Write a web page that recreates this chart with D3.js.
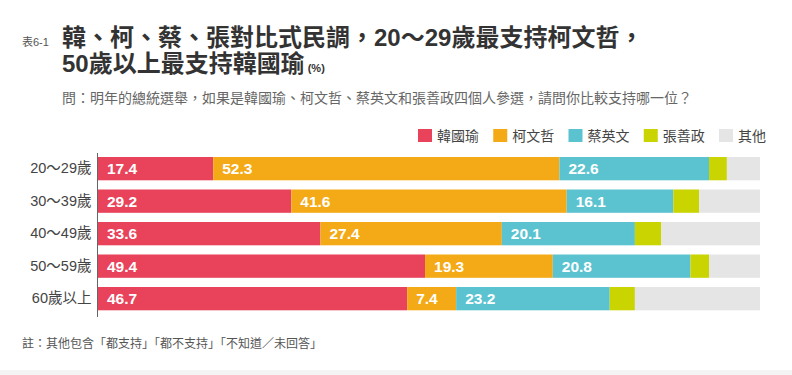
<!DOCTYPE html>
<html>
<head>
<meta charset="utf-8">
<script src="https://cdn.jsdelivr.net/npm/d3@7"></script>
<style>
	body{margin:0;background:#fff;}
	svg{display:block;font-family:"Liberation Sans","Noto Sans CJK TC",sans-serif;}
</style>
</head>
<body>
<div id="chart"></div>
<script>

//data
const ageGroups = ["20～29歲", "30～39歲", "40～49歲", "50～59歲", "60歲以上"];
const candidates = ["韓國瑜", "柯文哲", "蔡英文", "張善政", "其他"];
const hanValues = [17.4, 29.2, 33.6, 49.4, 46.7];
const koValues = [52.3, 41.6, 27.4, 19.3, 7.4];
const tsaiValues = [22.6, 16.1, 20.1, 20.8, 23.2];
const changValues = [2.7, 3.9, 4.0, 2.8, 3.8];
const otherValues = [5.0, 9.2, 14.9, 7.7, 18.9];
const labelled = ["韓國瑜", "柯文哲", "蔡英文"];

function graph(){

	//sizing
	const width = 792;
	const height = 375;

	let svg = d3.select("#chart")
		.append("svg")
		.attr("width", width)
		.attr("height", height);

	//color per candidate
	let fillColor = d3.scaleOrdinal()
		.domain(candidates)
		.range(["#e8435a", "#f4aa17", "#5bc3d0", "#c9d400", "#e5e5e6"]);

	//build rows for the stack
	let rows = ageGroups.map((g, i) => ({
		group: g,
		"韓國瑜": hanValues[i],
		"柯文哲": koValues[i],
		"蔡英文": tsaiValues[i],
		"張善政": changValues[i],
		"其他": otherValues[i]
	}));

	let series = d3.stack().keys(candidates)(rows);

	let x = d3.scaleLinear()
		.domain([0, 100])
		.range([98, 760]);

	let y = d3.scaleBand()
		.domain(ageGroups)
		.range([152.4, 314.9])
		.paddingInner(0.283)
		.paddingOuter(0.1415);

	//bars
	let layers = svg.append("g")
		.selectAll("g")
		.data(series)
		.enter().append("g")
		.attr("fill", (d) => fillColor(d.key));

	layers.selectAll("rect")
		.data((d) => d)
		.enter().append("rect")
		.attr("x", (d) => x(d[0]))
		.attr("y", (d) => y(d.data.group))
		.attr("width", (d) => x(d[1]) - x(d[0]))
		.attr("height", y.bandwidth());

	//value labels
	series.filter((s) => labelled.includes(s.key)).forEach((s) => {
		svg.append("g")
			.selectAll("text")
			.data(s)
			.enter().append("text")
			.attr("x", (d) => x(d[0]) + 9)
			.attr("y", (d) => y(d.data.group) + y.bandwidth()/2)
			.attr("dy", "0.36em")
			.attr("fill", "#fff")
			.attr("font-weight", "bold")
			.attr("font-size", "15.5px")
			.text((d) => (d[1] - d[0]).toFixed(1));
	});

	//category axis
	let axis = svg.append("g")
		.attr("transform", "translate(97.5,0)")
		.call(d3.axisLeft(y).tickSize(0).tickPadding(6));

	axis.select(".domain")
		.attr("d", "M0,153V317")
		.attr("stroke", "#666");

	axis.selectAll("text")
		.attr("font-size", "14.5px")
		.attr("fill", "#444")
		.attr("font-family", "\"Liberation Sans\",\"Noto Sans CJK TC\",sans-serif");

	//legend
	let legendX = d3.scalePoint()
		.domain(candidates)
		.range([418, 719]);

	let legend = svg.append("g")
		.selectAll("g")
		.data(candidates)
		.enter().append("g")
		.attr("transform", (d) => "translate(" + legendX(d) + ",0)");

	legend.append("rect")
		.attr("y", 129)
		.attr("width", 14)
		.attr("height", 13)
		.attr("fill", (d) => fillColor(d));

	legend.append("text")
		.attr("x", 19)
		.attr("y", 141)
		.attr("font-size", "14px")
		.attr("fill", "#444")
		.text((d) => d);

	//titles
	svg.append("text")
		.attr("x", 22)
		.attr("y", 46)
		.attr("font-size", "11px")
		.attr("fill", "#555")
		.text("表6-1");

	svg.append("text")
		.attr("x", 62)
		.attr("y", 46)
		.attr("font-size", "24px")
		.attr("font-weight", "bold")
		.attr("fill", "#333")
		.text("韓、柯、蔡、張對比式民調，20～29歲最支持柯文哲，");

	let t2 = svg.append("text")
		.attr("x", 62)
		.attr("y", 72)
		.attr("font-size", "24px")
		.attr("font-weight", "bold")
		.attr("fill", "#333");
	t2.append("tspan").text("50歲以上最支持韓國瑜");
	t2.append("tspan")
		.attr("font-size", "11px")
		.attr("dx", 3)
		.text("(%)");

	svg.append("text")
		.attr("x", 62)
		.attr("y", 103)
		.attr("font-size", "14px")
		.attr("fill", "#666")
		.text("問：明年的總統選舉，如果是韓國瑜、柯文哲、蔡英文和張善政四個人參選，請問你比較支持哪一位？");

	//note
	svg.append("text")
		.attr("x", 22)
		.attr("y", 348)
		.attr("font-size", "12px")
		.attr("fill", "#555")
		.text("註：其他包含「都支持」「都不支持」「不知道／未回答」");

	//bottom strip
	svg.append("rect")
		.attr("x", 0)
		.attr("y", 370)
		.attr("width", width)
		.attr("height", 5)
		.attr("fill", "#f4f4f4");

} //function graph

graph();
</script>
</body>
</html>
